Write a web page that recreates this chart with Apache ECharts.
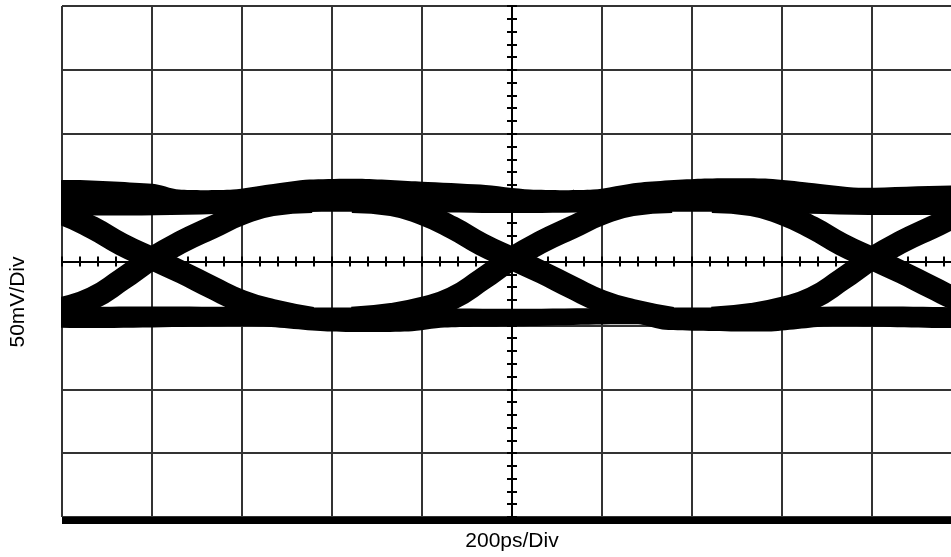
<!DOCTYPE html>
<html>
<head>
<meta charset="utf-8">
<script src="https://cdn.jsdelivr.net/npm/echarts@6/dist/echarts.min.js"></script>
<style>
html, body { margin: 0; padding: 0; background: #fff; }
#chart { width: 951px; height: 557px; }
</style>
</head>
<body>
<div id="chart"></div>
<script>
// time axis in ps relative to screen centre, level in mV
var crossings = [-800, 0, 800];

// edge shape around a crossing: time offset (ps) and trace level (mV)
var edgeOffsets = [-356, -267, -200, -133, -67, 0, 67, 133, 200, 267, 356];
var fallingLevels = [47, 44.5, 37.5, 26.6, 13.3, 2.3, -8.6, -20.3, -31.3, -38.3, -44.5];
var risingLevels = [-44.5, -41.4, -36.7, -28.9, -14.1, 2.3, 15.6, 26.6, 37.5, 44.5, 47];

// outline of the "1" rail
var upperTop = [[-1060, 61.7], [-800, 60.9], [-740, 56.3], [-620, 56.3], [-540, 60.2], [-450, 64.1],
    [-340, 64.8], [-200, 62.5], [-70, 60.2], [40, 56.3], [180, 56.3], [280, 61.7], [420, 64.8],
    [570, 64.8], [660, 61.7], [770, 57.8], [1060, 57.8]];
var upperBottom = [[-1060, 38], [-400, 39], [0, 38], [400, 39], [1060, 38]];

// outline of the "0" rail
var lowerTop = [[-1060, -37], [-400, -36], [0, -37], [400, -36], [1060, -37]];
var lowerBottom = [[-1060, -50.8], [-560, -50.8], [-410, -54.7], [-230, -54.7], [-150, -51.6],
    [0, -50.8], [280, -49.2], [340, -53.5], [570, -54.7], [700, -50.8], [1060, -50.8]];

var chart = echarts.init(document.getElementById('chart'));

function railSeries(top, bottom) {
    return {
        type: 'custom',
        silent: true,
        data: [[0, 0]],
        renderItem: function (params, api) {
            var pts = top.concat(bottom.slice().reverse()).map(function (p) {
                return api.coord(p);
            });
            return { type: 'polygon', shape: { points: pts, smooth: 0.25 }, style: { fill: '#000' } };
        }
    };
}

var series = [railSeries(upperTop, upperBottom), railSeries(lowerTop, lowerBottom)];
crossings.forEach(function (c) {
    [fallingLevels, risingLevels].forEach(function (levels) {
        series.push({
            type: 'line',
            silent: true,
            smooth: true,
            symbol: 'none',
            clip: true,
            data: edgeOffsets.map(function (d, i) { return [c + d, levels[i]]; }),
            lineStyle: { color: '#000', width: 23 }
        });
    });
});

var gridLine = { show: true, lineStyle: { color: '#333', width: 2 } };

// centre crosshair axes with small ticks on both sides
function centreX(inside) {
    return {
        type: 'value', min: -1000, max: 1000, interval: 40,
        axisLine: { show: true, onZero: true, onZeroAxisIndex: 0, lineStyle: { color: '#000', width: 2 } },
        axisTick: { show: true, inside: inside, length: 5, lineStyle: { color: '#000', width: 2 } },
        axisLabel: { show: false }, splitLine: { show: false }
    };
}
function centreY(inside) {
    return {
        type: 'value', min: -200, max: 200, interval: 10,
        axisLine: { show: true, onZero: true, onZeroAxisIndex: 0, lineStyle: { color: '#000', width: 2 } },
        axisTick: { show: true, inside: inside, length: 5, lineStyle: { color: '#000', width: 2 } },
        axisLabel: { show: false }, splitLine: { show: false }
    };
}

var option = {
    animation: false,
    backgroundColor: '#fff',
    grid: { left: 62, top: 6, width: 900, height: 511, outerBoundsMode: 'none', containLabel: false },
    xAxis: [{
        type: 'value', min: -1000, max: 1000, interval: 200, position: 'bottom', offset: 3,
        axisLine: { show: true, onZero: false, lineStyle: { color: '#000', width: 7, cap: 'butt' } },
        axisTick: { show: false }, axisLabel: { show: false },
        splitLine: gridLine
    }, centreX(false), centreX(true)],
    yAxis: [{
        type: 'value', min: -200, max: 200, interval: 50, position: 'left',
        axisLine: { show: false, onZero: false },
        axisTick: { show: false }, axisLabel: { show: false },
        splitLine: gridLine
    }, centreY(false), centreY(true)],
    graphic: [{
        // blank margin left of the screen so thick traces stop at the border
        type: 'rect', z: 100, silent: true,
        shape: { x: 0, y: 0, width: 61, height: 557 },
        style: { fill: '#fff' }
    }, {
        type: 'text', x: 512, y: 541, z: 101,
        style: { text: '200ps/Div', font: '21px "Liberation Sans", Arial, sans-serif', fill: '#000', textAlign: 'center', textVerticalAlign: 'middle' }
    }, {
        type: 'text', x: 18, y: 302, z: 101, rotation: Math.PI / 2,
        style: { text: '50mV/Div', font: '21px "Liberation Sans", Arial, sans-serif', fill: '#000', textAlign: 'center', textVerticalAlign: 'middle' }
    }],
    series: series
};

chart.setOption(option);
</script>
</body>
</html>
